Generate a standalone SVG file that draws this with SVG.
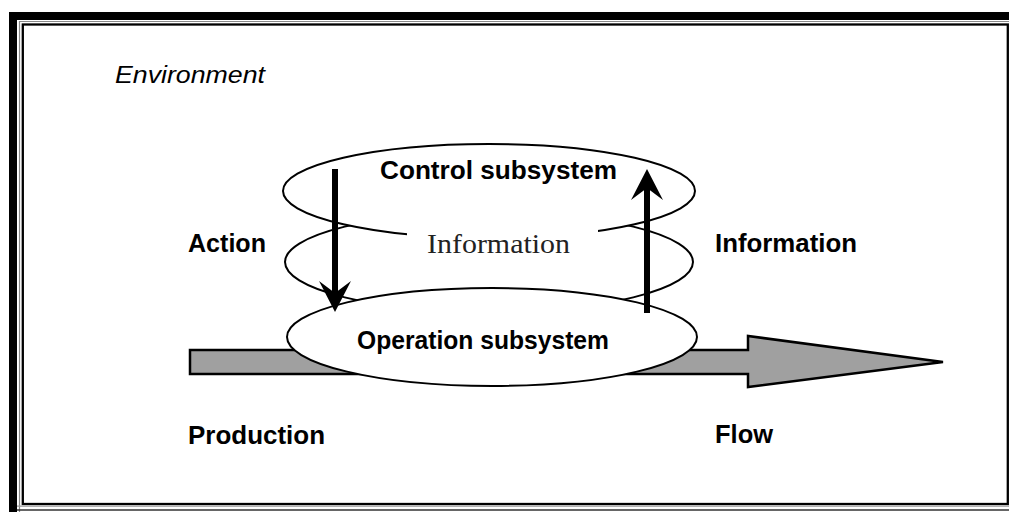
<svg xmlns="http://www.w3.org/2000/svg" width="1009" height="512" viewBox="0 0 1009 512">
<style>
.lbl{font-family:"Liberation Sans",Arial,sans-serif;font-weight:bold;font-size:25px;fill:#000}
.env{font-family:"Liberation Sans",Arial,sans-serif;font-style:italic;font-size:24px;fill:#000}
.ser{font-family:"Liberation Serif","Times New Roman",serif;font-size:27px;fill:#222}
.ell{stroke:#000;stroke-width:2;fill:#fff}
.varrow{stroke:#000;stroke-width:6;fill:none}
</style>
<defs>
<marker id="head" viewBox="-32 -17 33 34" markerWidth="33" markerHeight="34" refX="-19" refY="0" orient="auto" markerUnits="userSpaceOnUse">
<path d="M0,0 L-31,-16 L-19,0 L-31,16 Z" fill="#000"/>
</marker>
</defs>
<rect width="1009" height="512" fill="#fff"/>
<g id="frame">
<rect x="9" y="12" width="1000" height="8" fill="#000"/>
<rect x="9" y="12" width="8" height="500" fill="#000"/>
<path d="M19.5 512 V21.5 H1009" stroke="#888" stroke-width="1.2" fill="none"/>
<rect x="22.8" y="24.5" width="985" height="479.5" stroke="#000" stroke-width="2.3" fill="none"/>
<path d="M17 506.2 H1009" stroke="#999" stroke-width="1.2"/>
<path d="M17 510 H1009" stroke="#333" stroke-width="1.5"/>
</g>
<g id="environment"><text class="env" x="115" y="83" textLength="150" lengthAdjust="spacingAndGlyphs">Environment</text></g>
<g id="production-flow">
<path d="M190,350 H748 V336 L943,362 L748,387 V374 H190 Z" fill="#a0a0a0" stroke="#000" stroke-width="2.5" stroke-linejoin="miter"/>
</g>
<g id="information-loop">
<ellipse class="ell" cx="489" cy="262" rx="204" ry="50"/>
</g>
<g id="control-subsystem">
<ellipse class="ell" cx="489" cy="191" rx="206" ry="47"/>
<text class="lbl" x="380" y="179" textLength="237" lengthAdjust="spacingAndGlyphs" font-size="23">Control subsystem</text>
</g>
<g id="operation-subsystem">
<ellipse class="ell" cx="492" cy="337" rx="205" ry="49"/>
<text class="lbl" x="357" y="349" textLength="252" lengthAdjust="spacingAndGlyphs">Operation subsystem</text>
</g>
<g id="information-center">
<rect x="407" y="222" width="191" height="36" fill="#fff"/>
<text class="ser" x="427" y="253" textLength="143" lengthAdjust="spacingAndGlyphs">Information</text>
</g>
<g id="connectors">
<path class="varrow" d="M335,169 V293" marker-end="url(#head)"/>
<path class="varrow" d="M647,313 V188" marker-end="url(#head)"/>
</g>
<g id="labels">
<text class="lbl" x="188" y="252" textLength="78" lengthAdjust="spacingAndGlyphs">Action</text>
<text class="lbl" x="715" y="252" textLength="142" lengthAdjust="spacingAndGlyphs">Information</text>
<text class="lbl" x="188" y="444" textLength="137" lengthAdjust="spacingAndGlyphs">Production</text>
<text class="lbl" x="715" y="443" textLength="58" lengthAdjust="spacingAndGlyphs">Flow</text>
</g>
</svg>
